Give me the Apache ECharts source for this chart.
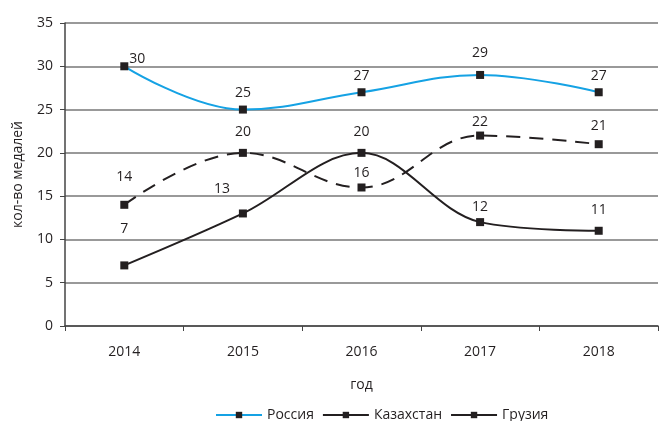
<!DOCTYPE html>
<html>
<head>
<meta charset="utf-8">
<script src="https://cdn.jsdelivr.net/npm/echarts@6/dist/echarts.min.js"></script>
<style>
  html, body { margin: 0; padding: 0; background: #fff; }
  #chart { width: 659px; height: 421px; }
</style>
</head>
<body>
<div id="chart"></div>
<script>
  var years = ['2014', '2015', '2016', '2017', '2018'];
  var russia = [30, 25, 27, 29, 27];
  var kazakhstan = [14, 20, 16, 22, 21];
  var georgia = [7, 13, 20, 12, 11];

  // смещения подписей [dx, dy]
  var russiaLabelOff = [[13, 4], [0, -6], [0, -5], [0, -11], [0, -5]];
  var kazLabelOff = [[0, -17], [0, -10], [0, -3], [0, -3], [0, -7]];
  var geoLabelOff = [[0, -25], [-21, -13], [0, -10], [0, -4], [0, -10]];

  var font = 'Open Sans';
  var textColor = '#231f20';

  function withLabels(values, offs) {
    var items = [];
    for (var i = 0; i < values.length; i++) {
      items.push({ value: values[i], label: { offset: offs[i] } });
    }
    return items;
  }

  var chart = echarts.init(document.getElementById('chart'));
  var option = {
    animation: false,
    textStyle: { fontFamily: font },
    grid: { left: 65, right: 1, top: 23, bottom: 95 },
    legend: {
      left: 210,
      top: 403,
      itemWidth: 46,
      itemHeight: 8,
      itemGap: 8,
      textStyle: { fontSize: 14, color: textColor, fontFamily: font },
      data: [
        { name: 'Россия' },
        { name: 'Казахстан', lineStyle: { type: 'solid' } },
        { name: 'Грузия' }
      ]
    },
    xAxis: {
      type: 'category',
      data: years,
      boundaryGap: true,
      name: 'год',
      nameLocation: 'middle',
      nameGap: 52,
      nameTextStyle: { fontSize: 14, color: textColor },
      axisLine: { lineStyle: { color: '#444', width: 1.5 } },
      axisTick: { show: true, inside: false, length: 5, lineStyle: { color: '#444' } },
      axisLabel: { fontSize: 14, color: textColor, margin: 19 }
    },
    yAxis: {
      type: 'value',
      min: 0,
      max: 35,
      interval: 5,
      name: 'кол-во медалей',
      nameLocation: 'middle',
      nameGap: 40,
      nameTextStyle: { fontSize: 14, color: textColor },
      axisLine: { show: true, lineStyle: { color: '#444', width: 1.5 } },
      axisTick: { show: true, length: 5, lineStyle: { color: '#444' } },
      axisLabel: { fontSize: 14, color: textColor, margin: 12 },
      splitLine: { lineStyle: { color: '#777', width: 1.5 } }
    },
    series: [
      {
        name: 'Россия',
        type: 'line',
        data: withLabels(russia, russiaLabelOff),
        smooth: 0.4,
        symbol: 'rect',
        symbolSize: 8,
        itemStyle: { color: '#231f20' },
        lineStyle: { color: '#15a2e4', width: 2 },
        label: { show: true, position: 'top', distance: 0, fontSize: 14, color: textColor }
      },
      {
        name: 'Казахстан',
        type: 'line',
        data: withLabels(kazakhstan, kazLabelOff),
        smooth: 0.4,
        symbol: 'rect',
        symbolSize: 8,
        itemStyle: { color: '#231f20' },
        lineStyle: { color: '#231f20', width: 2, type: [14, 9] },
        label: { show: true, position: 'top', distance: 0, fontSize: 14, color: textColor }
      },
      {
        name: 'Грузия',
        type: 'line',
        data: withLabels(georgia, geoLabelOff),
        smooth: 0.35,
        symbol: 'rect',
        symbolSize: 8,
        itemStyle: { color: '#231f20' },
        lineStyle: { color: '#231f20', width: 2 },
        label: { show: true, position: 'top', distance: 0, fontSize: 14, color: textColor }
      }
    ]
  };
  chart.setOption(option);
</script>
</body>
</html>
